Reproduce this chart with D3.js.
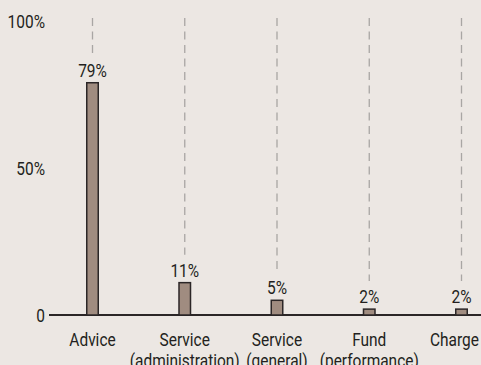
<!DOCTYPE html>
<html>
<head>
<meta charset="utf-8">
<script src="https://cdn.jsdelivr.net/npm/d3@7"></script>
<style>
  html, body { margin: 0; padding: 0; background: #ece7e3; }
  svg { display: block; }
  text { font-family: Roboto, "Liberation Sans", sans-serif; fill: #231f20; }
</style>
</head>
<body>
<svg id="chart" width="481" height="365"></svg>
<script>
// Share of responses by category
const categories = ["Advice", "Service (administration)", "Service (general)", "Fund (performance)", "Charge"];
const labelLines = [["Advice"], ["Service", "(administration)"], ["Service", "(general)"], ["Fund", "(performance)"], ["Charge"]];
const values = [79, 11, 5, 2, 2];
const yTicks = [0, 50, 100];
const yTickLabels = ["0", "50%", "100%"];

const svg = d3.select("#chart");
const W = 481, H = 365;

const x = d3.scalePoint().domain(categories).range([92.5, 461.5]);
const y = d3.scaleLinear().domain([0, 100]).range([315, 21]);
const barW = 11.5;
const fs = 18;
const sx = 0.86;          // horizontal squeeze for a condensed look
const squeeze = `scale(${sx},1)`;

// dashed guide lines above each bar
svg.append("g").selectAll("line").data(categories).join("line")
  .attr("x1", d => x(d)).attr("x2", d => x(d))
  .attr("y1", 18)
  .attr("y2", (d, i) => y(values[i]) - 28)
  .attr("stroke", "#a9a6a4").attr("stroke-width", 1.3)
  .attr("stroke-dasharray", "8,5.5");

// y axis labels
const yAxis = d3.axisLeft(y).tickValues(yTicks).tickFormat((d, i) => yTickLabels[i]).tickSize(0).tickPadding(0);
const ga = svg.append("g").attr("transform", "translate(45,0)").call(yAxis);
ga.select(".domain").remove();
ga.attr("font-family", null).attr("font-size", null);
ga.selectAll("text")
  .attr("x", 0).attr("dy", "0.355em")
  .attr("font-size", fs).attr("fill", "#231f20")
  .attr("transform", squeeze);

// baseline
svg.append("line").attr("x1", 49).attr("x2", W).attr("y1", y(0)).attr("y2", y(0))
  .attr("stroke", "#2b2627").attr("stroke-width", 2);

// bars
svg.append("g").selectAll("rect").data(values).join("rect")
  .attr("x", (d, i) => x(categories[i]) - barW / 2)
  .attr("y", d => y(d))
  .attr("width", barW)
  .attr("height", d => y(0) - y(d))
  .attr("fill", "#a08c80").attr("stroke", "#2b2627").attr("stroke-width", 1.5);

// value labels
svg.append("g").selectAll("text").data(values).join("text")
  .attr("transform", (d, i) => `translate(${x(categories[i])},${y(d) - 6}) ${squeeze}`)
  .attr("text-anchor", "middle").attr("font-size", fs)
  .text(d => d + "%");

// category labels (kept inside the right edge)
const cat = svg.append("g").selectAll("text").data(categories).join("text")
  .attr("text-anchor", "middle").attr("font-size", fs);
cat.selectAll("tspan").data((d, i) => labelLines[i]).join("tspan")
  .attr("x", 0)
  .attr("dy", (d, j) => j === 0 ? 0 : 21)
  .text(d => d);
cat.attr("transform", function(d) {
  const half = this.getBBox().width * sx / 2;
  const cx = Math.min(x(d), W - 2 - half);
  return `translate(${cx},346) ${squeeze}`;
});
</script>
</body>
</html>
